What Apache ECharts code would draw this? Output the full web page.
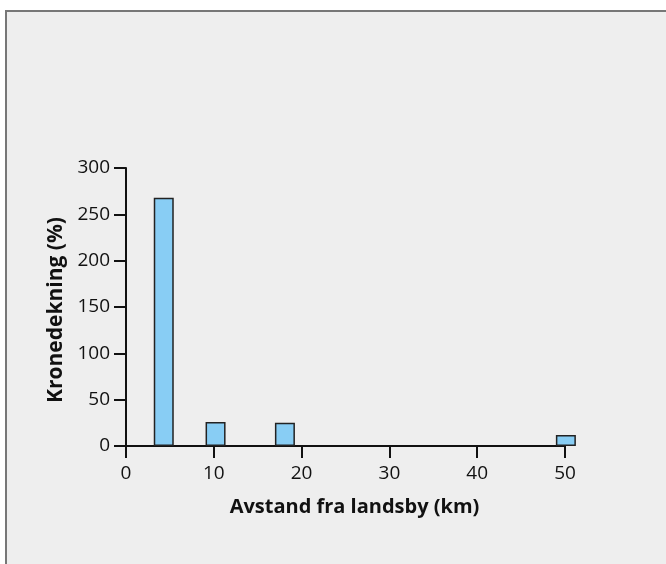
<!DOCTYPE html>
<html>
<head>
<meta charset="utf-8">
<script src="https://cdn.jsdelivr.net/npm/echarts@6/dist/echarts.min.js"></script>
<style>
  html, body { margin: 0; padding: 0; background: #ffffff; }
  #chart { width: 666px; height: 564px; }
</style>
</head>
<body>
<div id="chart"></div>
<script>
// Distance from village (km) and crown cover (%) per sample
const distances = [4.3, 10.2, 18.1, 50.1];
const crownCover = [268, 26, 25, 12];
const xTicks = [0, 10, 20, 30, 40, 50];
const yTicks = [0, 50, 100, 150, 200, 250, 300];

const xTitle = 'Avstand fra landsby (km)';
const yTitle = 'Kronedekning (%)';

const tickFont = '"Open Sans", "Noto Sans", sans-serif';
const titleFont = '"Open Sans", "Noto Sans", sans-serif';
const points = distances.map((d, i) => [d, crownCover[i]]);

const chart = echarts.init(document.getElementById('chart'));
chart.setOption({
  animation: false,
  backgroundColor: '#ffffff',
  graphic: [{
    type: 'rect',
    left: 5, top: 10,
    shape: { width: 700, height: 600 },
    style: { fill: '#eeeeee', stroke: '#777777', lineWidth: 2 },
    z: -10
  }],
  grid: { left: 126, right: 101, top: 168, bottom: 118 },
  xAxis: {
    type: 'value',
    min: xTicks[0], max: xTicks[xTicks.length - 1], interval: 10,
    name: xTitle,
    nameLocation: 'middle',
    nameGap: 51,
    nameTextStyle: { fontFamily: titleFont, fontSize: 20, fontWeight: 'bold', color: '#111', padding: [0, 0, 0, 18] },
    axisLine: { show: true, onZero: false, lineStyle: { color: '#111', width: 2 } },
    axisTick: { show: true, length: 12, inside: false, lineStyle: { color: '#111', width: 2 } },
    axisLabel: { fontFamily: tickFont, fontSize: 19, color: '#111', margin: 18 },
    splitLine: { show: false }
  },
  yAxis: {
    type: 'value',
    min: yTicks[0], max: yTicks[yTicks.length - 1], interval: 50,
    name: yTitle,
    nameLocation: 'middle',
    nameGap: 54,
    nameRotate: 90,
    nameTextStyle: { fontFamily: titleFont, fontSize: 21, fontWeight: 'bold', color: '#111', padding: [0, 6, 0, 0] },
    axisLine: { show: true, lineStyle: { color: '#111', width: 2 } },
    axisTick: { show: true, length: 12, inside: false, lineStyle: { color: '#111', width: 2 } },
    axisLabel: { fontFamily: tickFont, fontSize: 19, color: '#111', margin: 16 },
    splitLine: { show: false }
  },
  series: [{
    type: 'bar',
    data: points,
    barWidth: 20,
    itemStyle: { color: '#88cdf4', borderColor: '#222', borderWidth: 1.5 },
    z: 3
  }]
});
</script>
</body>
</html>
